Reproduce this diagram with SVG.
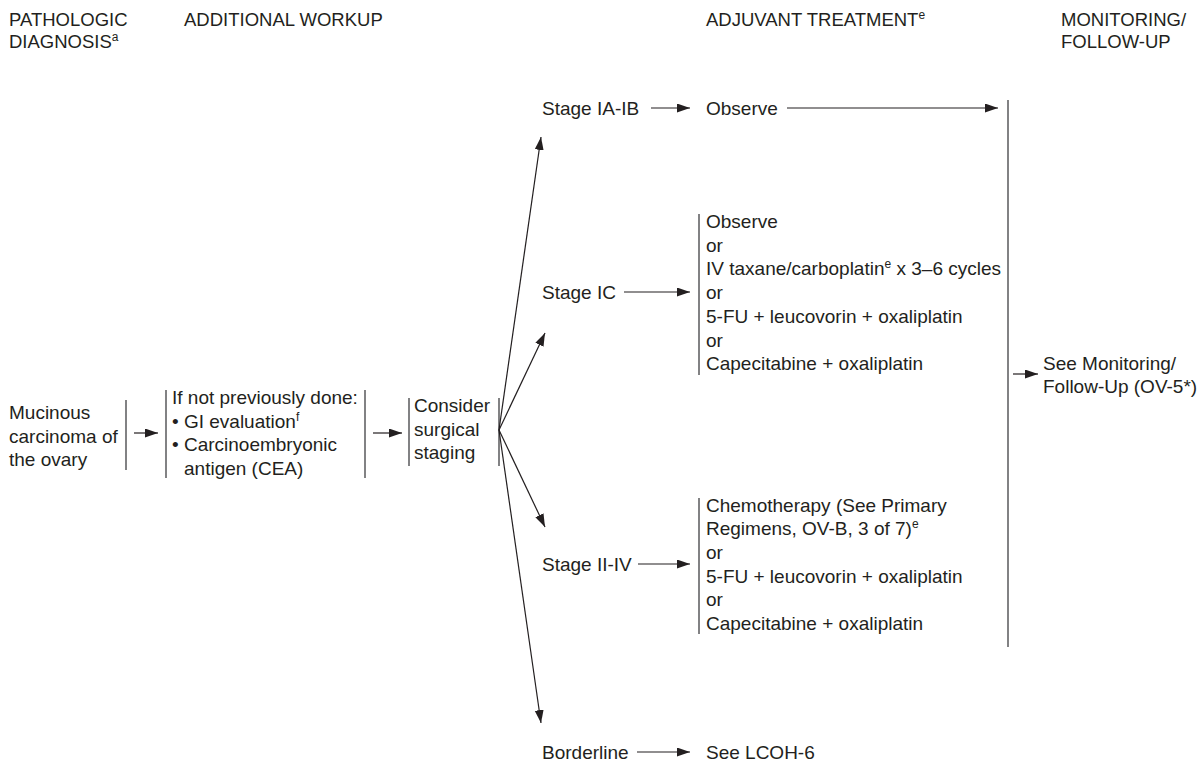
<svg xmlns="http://www.w3.org/2000/svg" width="1202" height="763" viewBox="0 0 1202 763">
<style>
  text { font-family: "Liberation Sans", Arial, Helvetica, sans-serif; fill: #231f20; }
  .t { font-size: 19px; }
  .h { font-size: 18.5px; }
  .sup { font-size: 12px; }
  .bar { stroke: #58595b; stroke-width: 1.5; fill: none; }
  .c { stroke: #231f20; stroke-width: 1.2; fill: none; marker-end: url(#ah); }
</style>
<defs>
  <marker id="ah" markerUnits="userSpaceOnUse" markerWidth="14" markerHeight="10" refX="13" refY="4.5" orient="auto" viewBox="0 0 14 10">
    <path d="M0,0 L13,4.5 L0,9 z" fill="#231f20"/>
  </marker>
</defs>
<rect width="1202" height="763" fill="#ffffff"/>

<g id="headers">
  <text class="h" x="9" y="26">PATHOLOGIC</text>
  <text class="h" x="9" y="48">DIAGNOSIS<tspan class="sup" dy="-7">a</tspan></text>
  <text class="h" x="184" y="26">ADDITIONAL WORKUP</text>
  <text class="h" x="706" y="26">ADJUVANT TREATMENT<tspan class="sup" dy="-7">e</tspan></text>
  <text class="h" x="1061" y="26">MONITORING/</text>
  <text class="h" x="1061" y="48">FOLLOW-UP</text>
</g>

<g id="node-mucinous">
  <text class="t" x="9" y="419">Mucinous</text>
  <text class="t" x="9" y="442.5">carcinoma of</text>
  <text class="t" x="9" y="466">the ovary</text>
  <line class="bar" x1="126" y1="400" x2="126" y2="470"/>
</g>

<g id="node-workup">
  <line class="bar" x1="166" y1="390" x2="166" y2="478"/>
  <text class="t" x="172" y="404">If not previously done:</text>
  <text class="t" x="172" y="427.5">• GI evaluation<tspan class="sup" dy="-7">f</tspan></text>
  <text class="t" x="172" y="451">• Carcinoembryonic</text>
  <text class="t" x="184" y="474.5">antigen (CEA)</text>
  <line class="bar" x1="365" y1="390" x2="365" y2="478"/>
</g>

<g id="node-consider">
  <line class="bar" x1="409" y1="398" x2="409" y2="466"/>
  <text class="t" x="414" y="412">Consider</text>
  <text class="t" x="414" y="435.5">surgical</text>
  <text class="t" x="414" y="459">staging</text>
  <line class="bar" x1="499" y1="398" x2="499" y2="466"/>
</g>

<g id="node-stage-iaib">
  <text class="t" x="542" y="115">Stage IA-IB</text>
</g>
<g id="node-observe">
  <text class="t" x="706" y="115">Observe</text>
</g>

<g id="node-stage-ic">
  <text class="t" x="542" y="299">Stage IC</text>
</g>
<g id="node-ic-treatment">
  <line class="bar" x1="699" y1="214" x2="699" y2="375"/>
  <text class="t" x="706" y="228">Observe</text>
  <text class="t" x="706" y="251.7">or</text>
  <text class="t" x="706" y="275.4">IV taxane/carboplatin<tspan class="sup" dy="-7">e</tspan><tspan dy="7"> x 3–6 cycles</tspan></text>
  <text class="t" x="706" y="299.1">or</text>
  <text class="t" x="706" y="322.8">5-FU + leucovorin + oxaliplatin</text>
  <text class="t" x="706" y="346.5">or</text>
  <text class="t" x="706" y="370.2">Capecitabine + oxaliplatin</text>
</g>

<g id="node-stage-iiiv">
  <text class="t" x="542" y="571">Stage II-IV</text>
</g>
<g id="node-iiiv-treatment">
  <line class="bar" x1="699" y1="498" x2="699" y2="634"/>
  <text class="t" x="706" y="511.5">Chemotherapy (See Primary</text>
  <text class="t" x="706" y="535.2">Regimens, OV-B, 3 of 7)<tspan class="sup" dy="-7">e</tspan></text>
  <text class="t" x="706" y="558.9">or</text>
  <text class="t" x="706" y="582.6">5-FU + leucovorin + oxaliplatin</text>
  <text class="t" x="706" y="606.3">or</text>
  <text class="t" x="706" y="630">Capecitabine + oxaliplatin</text>
</g>

<g id="node-borderline">
  <text class="t" x="542" y="759">Borderline</text>
</g>
<g id="node-lcoh">
  <text class="t" x="706" y="759">See LCOH-6</text>
</g>

<g id="node-monitoring">
  <line class="bar" x1="1008" y1="100" x2="1008" y2="647"/>
  <text class="t" x="1043" y="370">See Monitoring/</text>
  <text class="t" x="1043" y="393">Follow-Up (OV-5*)</text>
</g>

<g id="connectors">
  <line class="c" x1="134" y1="433" x2="158" y2="433"/>
  <line class="c" x1="373" y1="433" x2="402" y2="433"/>
  <line class="c" x1="499" y1="430" x2="541" y2="137"/>
  <line class="c" x1="499" y1="430" x2="545" y2="333"/>
  <line class="c" x1="499" y1="430" x2="545" y2="527"/>
  <line class="c" x1="499" y1="430" x2="541" y2="723"/>
  <line class="c" x1="651" y1="108" x2="690" y2="108"/>
  <line class="c" x1="787" y1="108" x2="998" y2="108"/>
  <line class="c" x1="624" y1="292" x2="690" y2="292"/>
  <line class="c" x1="638" y1="564" x2="690" y2="564"/>
  <line class="c" x1="637" y1="752" x2="690" y2="752"/>
  <line class="c" x1="1013" y1="374" x2="1038" y2="374"/>
</g>
</svg>
